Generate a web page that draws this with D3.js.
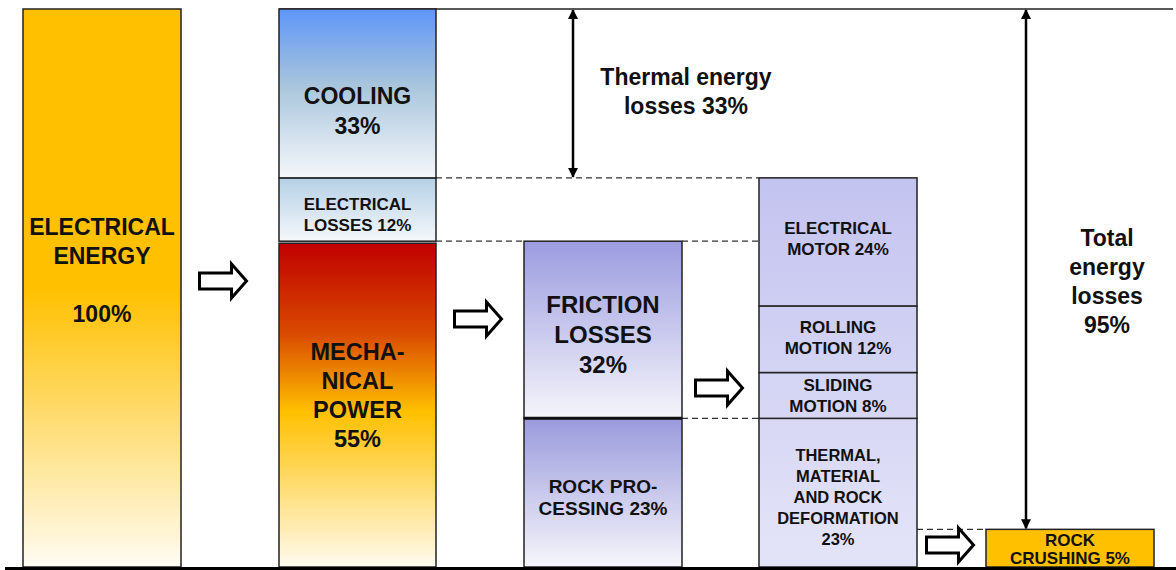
<!DOCTYPE html>
<html>
<head>
<meta charset="utf-8">
<script src="https://cdn.jsdelivr.net/npm/d3@7"></script>
<style>
  html, body { margin: 0; padding: 0; background: #fff; }
  svg { display: block; }
  text { font-family: "Liberation Sans", Arial, sans-serif; font-weight: bold; fill: #111; }
</style>
</head>
<body>
<svg id="chart" width="1176" height="570"></svg>
<script>
// ---- data -------------------------------------------------------------
// columns of the energy breakdown, left to right
const columns = ["input", "drive", "process", "detail", "output"];

// segments, listed bottom to top inside each column
const segIds     = ["electrical", "mechanical", "elecLosses", "cooling",
                    "rockProcessing", "friction",
                    "thermalDeform", "sliding", "rolling", "motor",
                    "rockCrushing"];
const segColumn  = ["input", "drive", "drive", "drive",
                    "process", "process",
                    "detail", "detail", "detail", "detail",
                    "output"];
const segValues  = [100, 55, 12, 33, 23, 32, 23, 8, 12, 24, 5];
// '#' is replaced by the segment value
const segLabels  = [
  ["ELECTRICAL", "ENERGY", "", "#%"],
  ["MECHA-", "NICAL", "POWER", "#%"],
  ["ELECTRICAL", "LOSSES #%"],
  ["COOLING", "#%"],
  ["ROCK PRO-", "CESSING #%"],
  ["FRICTION", "LOSSES", "#%"],
  ["THERMAL,", "MATERIAL", "AND ROCK", "DEFORMATION", "#%"],
  ["SLIDING", "MOTION #%"],
  ["ROLLING", "MOTION #%"],
  ["ELECTRICAL", "MOTOR #%"],
  ["ROCK", "CRUSHING #%"]
];

// loss brackets measured down from the 100% line
const thermalLoss = 33;
const totalLoss = 95;

// dashed level connectors: [level %, from column, to column]
const connectorLevels = [67, 55, 55, 23, 5];
const connectorFrom   = ["drive", "drive", "process", "process", "detail"];
const connectorTo     = ["detail", "process", "detail", "detail", "output"];

// ---- layout & style ----------------------------------------------------
const W = 1176, H = 570;
const floorY = 567, topY = 9;

const svg = d3.select("#chart");

const y = d3.scalePow().exponent(0.9).domain([0, 100]).range([floorY, topY]);
const colX = d3.scaleOrdinal().domain(columns).range([23, 279, 524, 759, 986]);
const colW = d3.scaleOrdinal().domain(columns).range([158, 157, 158, 158, 168]);

const segStyle = {
  electrical:     { fill: "url(#gElec)",   size: 23, lh: 29, dy: -18 },
  mechanical:     { fill: "url(#gMech)",   size: 23.5, lh: 29, dy: -9, insetTop: 2 },
  elecLosses:     { fill: "url(#gELoss)",  size: 17, lh: 21, dy: 5 },
  cooling:        { fill: "url(#gCool)",   size: 23, lh: 30, dy: 17 },
  rockProcessing: { fill: "url(#gRock)",   size: 19, lh: 22, dy: 4 },
  friction:       { fill: "url(#gFric)",   size: 24, lh: 30, dy: 5 },
  thermalDeform:  { fill: "url(#gDetail)", size: 16.5, lh: 21, dy: 4 },
  sliding:        { fill: "url(#gDetail)", size: 17, lh: 21, dy: 0 },
  rolling:        { fill: "url(#gDetail)", size: 17, lh: 21, dy: -2 },
  motor:          { fill: "url(#gDetail)", size: 17, lh: 21, dy: -4 },
  rockCrushing:   { fill: "#FFC000",       size: 17, lh: 18, dy: 0.5 }
};

// hollow block arrows between the columns (centre x, centre y)
const flowArrowX = [223, 478, 719, 950];
const flowArrowY = [281, 319, 388, 545];

// ---- gradients ---------------------------------------------------------
const defs = svg.append("defs");
function vGrad(id, stops, userSpace) {
  const g = defs.append("linearGradient").attr("id", id)
    .attr("x1", 0).attr("x2", 0).attr("y1", 0).attr("y2", 1);
  if (userSpace) {
    g.attr("gradientUnits", "userSpaceOnUse")
      .attr("y1", userSpace[0]).attr("y2", userSpace[1]);
  }
  stops.forEach(([o, c]) => g.append("stop").attr("offset", o).attr("stop-color", c));
}
vGrad("gElec",  [[0, "#FFC000"], [0.5, "#FFC000"], [1, "#FFFCF3"]]);
vGrad("gMech",  [[0, "#C00000"], [0.28, "#D94A00"], [0.52, "#FFC000"], [1, "#FFFBF0"]]);
vGrad("gELoss", [[0, "#B5D0E6"], [1, "#F5F8FB"]]);
vGrad("gCool",  [[0, "#5F95F8"], [0.45, "#A8C5DC"], [1, "#F5F7FB"]]);
vGrad("gFric",  [[0, "#9C9CE0"], [1, "#F5F5FB"]]);
vGrad("gRock",  [[0, "#9A9ADD"], [1, "#F6F6FB"]]);
vGrad("gDetail",[[0, "#C3C3F0"], [1, "#E4E4F8"]], [y(67), floorY]);

// ---- stack the segments ------------------------------------------------
const segs = [];
const running = {};
segIds.forEach((id, i) => {
  const col = segColumn[i];
  const lo = running[col] || 0;
  const hi = lo + segValues[i];
  running[col] = hi;
  segs.push({ id, col, value: segValues[i], lo, hi,
              lines: segLabels[i].map(s => s.replace("#", segValues[i])) });
});

// ---- top reference line ------------------------------------------------
svg.append("line")
  .attr("x1", colX("drive")).attr("x2", 1173)
  .attr("y1", y(100)).attr("y2", y(100))
  .attr("stroke", "#222").attr("stroke-width", 1.5);

// ---- dashed level connectors ------------------------------------------
svg.append("g").selectAll("line")
  .data(connectorLevels.map((v, i) => ({ v, from: connectorFrom[i], to: connectorTo[i] })))
  .join("line")
  .attr("x1", d => colX(d.from) + colW(d.from))
  .attr("x2", d => colX(d.to))
  .attr("y1", d => y(d.v)).attr("y2", d => y(d.v))
  .attr("stroke", "#333").attr("stroke-width", 1.3)
  .attr("stroke-dasharray", "6,4");

// ---- boxes ---------------------------------------------------------------
const boxes = svg.append("g");
boxes.selectAll("rect")
  .data(segs)
  .join("rect")
  .attr("x", d => colX(d.col))
  .attr("width", d => colW(d.col))
  .attr("y", d => y(d.hi) + (segStyle[d.id].insetTop || 0))
  .attr("height", d => y(d.lo) - y(d.hi) - (segStyle[d.id].insetTop || 0))
  .attr("fill", d => segStyle[d.id].fill)
  .attr("stroke", "#222").attr("stroke-width", 1.5);

// heavier split between friction and rock processing
const rp = segs.find(d => d.id === "rockProcessing");
svg.append("line")
  .attr("x1", colX(rp.col)).attr("x2", colX(rp.col) + colW(rp.col))
  .attr("y1", y(rp.hi)).attr("y2", y(rp.hi))
  .attr("stroke", "#111").attr("stroke-width", 3);

// ---- box labels ----------------------------------------------------------
const labels = svg.append("g");
segs.forEach(d => {
  const st = segStyle[d.id];
  const cx = colX(d.col) + colW(d.col) / 2;
  const cy = (y(d.lo) + y(d.hi)) / 2 + st.dy;
  const n = d.lines.length;
  const t = labels.append("text")
    .attr("text-anchor", "middle")
    .attr("font-size", st.size);
  d.lines.forEach((line, k) => {
    t.append("tspan")
      .attr("x", cx)
      .attr("y", cy + (k - (n - 1) / 2) * st.lh)
      .attr("dy", "0.36em")
      .text(line);
  });
});

// ---- hollow flow arrows -------------------------------------------------
function blockArrow(cx, cy) {
  const L = 47, head = 15, sh = 8, hh = 17;
  const x0 = cx - L / 2, xh = x0 + L - head, x1 = x0 + L;
  return `M${x0},${cy - sh}L${xh},${cy - sh}L${xh},${cy - hh}L${x1},${cy}` +
         `L${xh},${cy + hh}L${xh},${cy + sh}L${x0},${cy + sh}Z`;
}
svg.append("g").selectAll("path")
  .data(flowArrowX.map((x, i) => [x, flowArrowY[i]]))
  .join("path")
  .attr("d", d => blockArrow(d[0], d[1]))
  .attr("fill", "#fff").attr("stroke", "#000")
  .attr("stroke-width", 3).attr("stroke-linejoin", "miter");

// ---- loss brackets (double-headed arrows) ------------------------------
defs.append("marker").attr("id", "tip")
  .attr("viewBox", "0 0 10 10").attr("refX", 9).attr("refY", 5)
  .attr("markerWidth", 10).attr("markerHeight", 10)
  .attr("markerUnits", "userSpaceOnUse")
  .attr("orient", "auto-start-reverse")
  .append("path").attr("d", "M0,0L10,5L0,10Z").attr("fill", "#000");

function bracket(x, fromV, toV) {
  svg.append("line")
    .attr("x1", x).attr("x2", x)
    .attr("y1", y(fromV) + 1).attr("y2", y(toV) - 1)
    .attr("stroke", "#000").attr("stroke-width", 2.5)
    .attr("marker-start", "url(#tip)").attr("marker-end", "url(#tip)");
}
bracket(573, 100, 100 - thermalLoss);
bracket(1026, 100, 100 - totalLoss);

function noteText(cx, cy, lines, size, lh) {
  const t = svg.append("text").attr("text-anchor", "middle").attr("font-size", size);
  lines.forEach((line, k) => {
    t.append("tspan").attr("x", cx)
      .attr("y", cy + (k - (lines.length - 1) / 2) * lh)
      .attr("dy", "0.36em").text(line);
  });
}
noteText(686, 91.5, ["Thermal energy", `losses ${thermalLoss}%`], 23, 29);
noteText(1107, 281.5, ["Total", "energy", "losses", `${totalLoss}%`], 23, 29);

// ---- floor line -----------------------------------------------------------
svg.append("line")
  .attr("x1", 5).attr("x2", W)
  .attr("y1", floorY + 1.5).attr("y2", floorY + 1.5)
  .attr("stroke", "#000").attr("stroke-width", 3);
</script>
</body>
</html>
